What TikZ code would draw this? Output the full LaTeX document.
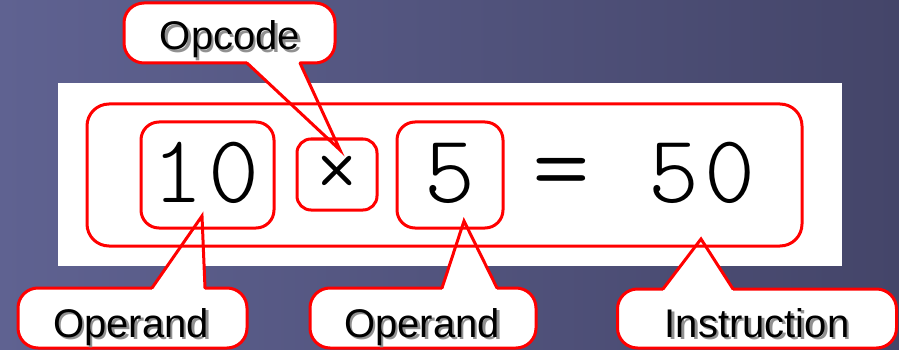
\documentclass[tikz,border=0pt]{standalone}
\usepackage{fontspec}
\setmainfont{Liberation Sans}
\newfontfamily\lightmono{Latin Modern Mono Light}
\definecolor{bgL}{RGB}{95,98,145}
\definecolor{bgR}{RGB}{68,69,105}
\definecolor{shd}{RGB}{145,145,145}
\tikzset{
  redbox/.style={draw=red, line width=3pt, rounded corners=#1, inner sep=0pt},
  cbody/.style={draw=red, fill=white, line width=3pt, rounded corners=20pt, inner sep=0pt},
  cptr/.style={draw=red, line width=3pt, line join=miter, line cap=round},
  lbl/.style={font=\fontsize{40}{40}\selectfont, anchor=base, inner sep=0pt},
  big/.style={font=\lightmono\fontsize{97}{97}\selectfont, anchor=base, inner sep=0pt},
}
\begin{document}
\begin{tikzpicture}[x=1pt,y=-1pt]
\useasboundingbox (0,0) rectangle (899,350);
\shade[left color=bgL, right color=bgR] (0,0) rectangle (899,350);
\node[fill=white, minimum width=784pt, minimum height=183pt, inner sep=0pt] (panel) at (450,174.5) {};

% callout bodies
\node[cbody, minimum width=211pt, minimum height=60pt] (opc) at (229.5,33) {};
\node[cbody, minimum width=229pt, minimum height=60pt] (op1) at (132.5,318) {};
\node[cbody, minimum width=226pt, minimum height=60pt] (op2) at (423,318) {};
\node[cbody, minimum width=279pt, minimum height=59pt] (ins) at (757,318.5) {};

% pointer tips
\coordinate (topc) at (340,150);
\coordinate (top1) at (202,216);
\coordinate (top2) at (464,221);
\coordinate (tins) at (701,239);

% pointers
\fill[white] (247,59) -- (247,63) -- (topc) -- (300,63) -- (300,59) -- cycle;
\draw[cptr] (247,63) -- (topc) -- (300,63);
\fill[white] (152,292) -- (152,288) -- (top1) -- (205,288) -- (205,292) -- cycle;
\draw[cptr] (152,288) -- (top1) -- (205,288);
\fill[white] (442,292) -- (442,288) -- (top2) -- (497,288) -- (497,292) -- cycle;
\draw[cptr] (442,288) -- (top2) -- (497,288);
\fill[white] (663,293) -- (663,289) -- (tins) -- (733,289) -- (733,293) -- cycle;
\draw[cptr] (663,289) -- (tins) -- (733,289);

% red boxes
\node[redbox=22pt, minimum width=715pt, minimum height=142pt] (instr) at (444.5,175) {};
\node[redbox=18pt, minimum width=133pt, minimum height=106pt] (b10) at (207.5,175) {};
\node[redbox=14pt, minimum width=80pt, minimum height=71pt] (bx) at (337,174.5) {};
\node[redbox=18pt, minimum width=106pt, minimum height=106pt] (b5) at (450,175) {};

% big text
\node[big] (t10) at (206,202) {1\kern6pt0};
\node[big, font=\lightmono\fontsize{90}{90}\selectfont] (tx) at (337,198) {×};
\node[big] (t5) at (450,202) {5};
\node[big, font=\lightmono\fontsize{110}{110}\selectfont] (teq) at (561,203) {=};
\node[big] (t50) at (702,202) {5\kern6pt0};

% labels with shadow
\node[lbl, text=shd] at (232.5,52.5) {Opcode};
\node[lbl] (lopc) at (230,50) {Opcode};
\node[lbl, text=shd] at (133.5,339.5) {Operand};
\node[lbl] (lop1) at (131,337) {Operand};
\node[lbl, text=shd] at (424.5,339.5) {Operand};
\node[lbl] (lop2) at (422,337) {Operand};
\node[lbl, text=shd] at (759.5,339.5) {Instruction};
\node[lbl] (lins) at (757,337) {Instruction};
\end{tikzpicture}
\end{document}
